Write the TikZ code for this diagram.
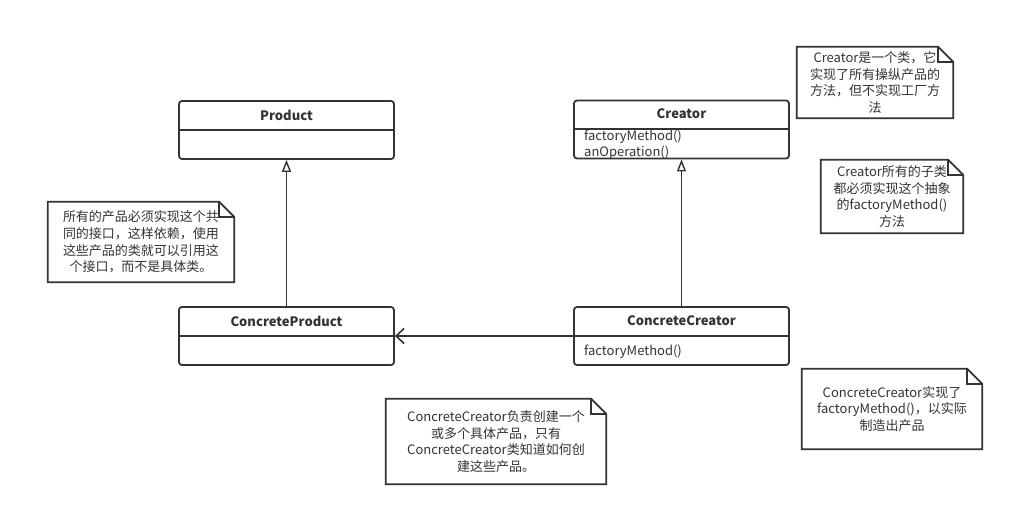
\documentclass[tikz,border=0pt]{standalone}
\usepackage{fontspec}
\setmainfont{Noto Sans CJK SC}
\usetikzlibrary{arrows.meta,calc}
\definecolor{ink}{HTML}{333333}
\tikzset{
  clsbox/.style={draw=ink, line width=1.8pt, rounded corners=3pt, minimum width=215pt, minimum height=58pt, inner sep=0pt},
  clsname/.style={text=ink, font=\fontsize{13}{16}\selectfont\bfseries, inner sep=0pt, anchor=center},
  member/.style={text=ink, font=\fontsize{13}{16}\selectfont, inner sep=0pt, anchor=west},
  divider/.style={draw=ink, line width=1.8pt},
  notebox/.style={minimum width=#1, inner sep=0pt, text=ink, align=center, font=\fontsize{13}{16.6}\selectfont},
  noteline/.style={draw=ink, line width=1.8pt, line join=miter},
  inherit/.style={draw=ink, line width=1.8pt, -{Triangle[open, length=12pt, width=9pt, line width=1.4pt]}},
  assoc/.style={draw=ink, line width=1.8pt, -{Straight Barb[length=8pt, width=15pt, line width=1.6pt]}},
}
\newcommand{\dognote}[1]{%
  \draw[noteline] (#1.south west) -- (#1.north west) -- ([xshift=-15pt]#1.north east) -- ([yshift=-15pt]#1.north east) -- (#1.south east) -- cycle;
  \draw[noteline] ([xshift=-15pt]#1.north east) -- ([xshift=-15pt,yshift=-15pt]#1.north east) -- ([yshift=-15pt]#1.north east);
}
\begin{document}
\begin{tikzpicture}[x=1pt, y=-1pt]
\useasboundingbox[fill=white] (0,0) rectangle (1013,515);

% Product
\node[clsbox] (product) at (286.5,130) {};
\node[clsname] (productname) at (286.5,115) {Product};
\draw[divider] (179,130) -- (394,130);

% Creator
\node[clsbox] (creator) at (681.5,129.5) {};
\node[clsname] (creatorname) at (681.5,114) {Creator};
\draw[divider] (574,129) -- (789,129);
\node[member] (fm1) at (584,137) {factoryMethod()};
\node[member] (anop) at (584,153) {anOperation()};

% ConcreteProduct
\node[clsbox] (cproduct) at (286.5,336) {};
\node[clsname] (cproductname) at (286.5,321) {ConcreteProduct};
\draw[divider] (179,336) -- (394,336);

% ConcreteCreator
\node[clsbox] (ccreator) at (681.5,336) {};
\node[clsname] (ccreatorname) at (681.5,321) {ConcreteCreator};
\draw[divider] (574,336) -- (789,336);
\node[member] (fm2) at (584,352) {factoryMethod()};

% connectors
\draw[inherit] (cproduct.north) -- (product.south);
\draw[inherit] (ccreator.north) -- (creator.south);
\draw[assoc] (ccreator.west) -- (cproduct.east);

% notes
\node[notebox=156pt, minimum height=71pt] (n1) at (875,82.5) {Creator是一个类，它\\实现了所有操纵产品的\\方法，但不实现工厂方\\法};
\dognote{n1}
\node[notebox=142pt, minimum height=73pt] (n2) at (892,196.5) {Creator所有的子类\\都必须实现这个抽象\\的factoryMethod()\\方法};
\dognote{n2}
\node[notebox=186pt, minimum height=80pt] (n3) at (141,242) {所有的产品必须实现这个共\\同的接口，这样依赖，使用\\这些产品的类就可以引用这\\个接口，而不是具体类。};
\dognote{n3}
\node[notebox=220pt, minimum height=85pt] (n4) at (496,441.5) {ConcreteCreator负责创建一个\\或多个具体产品，只有\\ConcreteCreator类知道如何创\\建这些产品。};
\dognote{n4}
\node[notebox=180pt, minimum height=80pt] (n5) at (892,409) {ConcreteCreator实现了\\factoryMethod()，以实际\\制造出产品};
\dognote{n5}
\end{tikzpicture}
\end{document}
